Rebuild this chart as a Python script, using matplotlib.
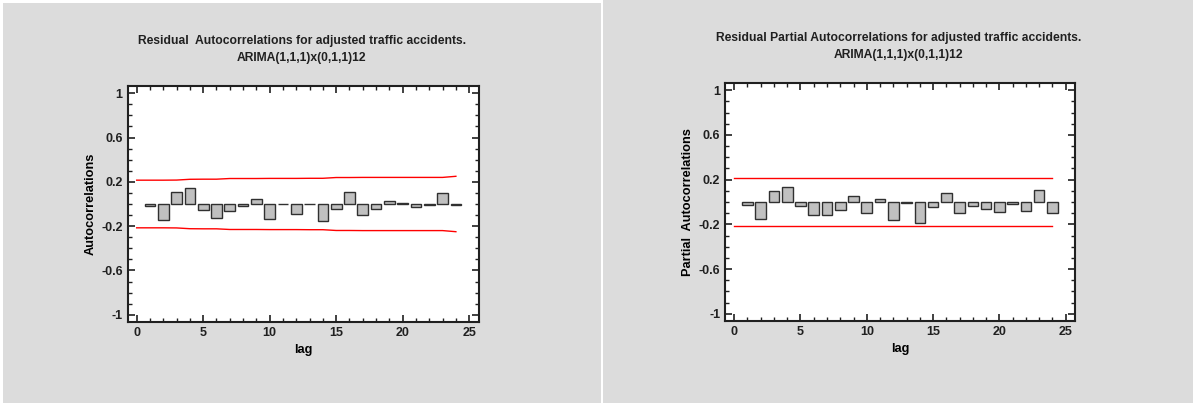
import matplotlib
matplotlib.use("Agg")
import matplotlib.pyplot as plt
from matplotlib.ticker import MultipleLocator
from matplotlib.patches import Rectangle

plt.rcParams['font.family'] = ['Liberation Sans', 'DejaVu Sans']

# residual autocorrelations, lags 1..24
lags = list(range(1, 25))
acf = [-0.018, -0.144, 0.112, 0.148, -0.054, -0.126, -0.063, -0.018, 0.042, -0.135,
       -0.003, -0.090, -0.002, -0.153, -0.045, 0.111, -0.099, -0.045, 0.024, 0.012,
       -0.027, -0.005, 0.096, -0.010]
pacf = [-0.024, -0.149, 0.099, 0.134, -0.033, -0.113, -0.113, -0.069, 0.054, -0.101,
        0.027, -0.158, -0.008, -0.191, -0.048, 0.081, -0.101, -0.033, -0.066, -0.093,
        -0.021, -0.078, 0.107, -0.101]

# probability limits, lags 0..24
limit_lags = list(range(0, 25))
acf_limit = [0.215, 0.215, 0.215, 0.216, 0.223, 0.224, 0.224, 0.230, 0.230, 0.230,
             0.231, 0.231, 0.231, 0.232, 0.232, 0.239, 0.239, 0.240, 0.240, 0.240,
             0.240, 0.240, 0.240, 0.240, 0.250]
pacf_limit = [0.217] * 25

titles = ["Residual  Autocorrelations for adjusted traffic accidents.\nARIMA(1,1,1)x(0,1,1)12",
          "Residual Partial Autocorrelations for adjusted traffic accidents.\nARIMA(1,1,1)x(0,1,1)12"]
ylabels = ["Autocorrelations", "Partial  Autocorrelations"]

W, H = 1193, 403
fig = plt.figure(figsize=(W / 100, H / 100), dpi=100)
fig.patch.set_facecolor("white")

# gray panel backgrounds
fig.patches.append(Rectangle((3 / W, 0), 598 / W, 400 / H, transform=fig.transFigure,
                             facecolor="#dcdcdc", edgecolor="none", zorder=-10))
fig.patches.append(Rectangle((603 / W, 0), 590 / W, 1, transform=fig.transFigure,
                             facecolor="#dcdcdc", edgecolor="none", zorder=-10))

boxes = [(127.5, 86, 478.5, 322), (725, 83, 1075, 321)]
title_pos = [(302, 49.5), (899, 46.5)]
series = [(acf, acf_limit), (pacf, pacf_limit)]

for i in range(2):
    x0, y0, x1, y1 = boxes[i]
    ax = fig.add_axes([x0 / W, 1 - y1 / H, (x1 - x0) / W, (y1 - y0) / H])
    ax.set_facecolor("white")
    vals, lim = series[i]
    ax.bar(lags, vals, width=0.8, color="#c0c0c0", edgecolor="#303030", linewidth=1.0, zorder=2)
    ax.plot(limit_lags, lim, color="red", linewidth=1.0, zorder=3)
    ax.plot(limit_lags, [-v for v in lim], color="red", linewidth=1.0, zorder=3)

    ax.set_xlim(-0.69, 25.7)
    ax.set_ylim(-1.065, 1.065)
    ax.xaxis.set_major_locator(MultipleLocator(5))
    ax.xaxis.set_minor_locator(MultipleLocator(1))
    ax.set_yticks([-1, -0.6, -0.2, 0.2, 0.6, 1])
    ax.set_yticklabels(["-1", "-0.6", "-0.2", "0.2", "0.6", "1"])
    ax.yaxis.set_minor_locator(MultipleLocator(0.1))
    ax.tick_params(which="both", direction="in", top=True, right=True, colors="#202020",
                   labelsize=9, pad=3.5)
    ax.tick_params(which="major", length=5, width=1.2)
    ax.tick_params(which="minor", length=3, width=1.0)
    for lbl in ax.get_xticklabels() + ax.get_yticklabels():
        lbl.set_fontweight("bold")
    for s in ax.spines.values():
        s.set_linewidth(1.5)
        s.set_color("#202020")

    ax.set_xlabel("lag", fontsize=9.2, fontweight="bold", labelpad=4)
    ax.set_ylabel(ylabels[i], fontsize=9.2, fontweight="bold", labelpad=3)

    tx, ty = title_pos[i]
    fig.text(tx / W, 1 - ty / H, titles[i], ha="center", va="center", fontsize=8.7,
             fontweight="bold", linespacing=1.65, color="#202020")

fig.savefig("out.png", dpi=100, facecolor=fig.get_facecolor())
